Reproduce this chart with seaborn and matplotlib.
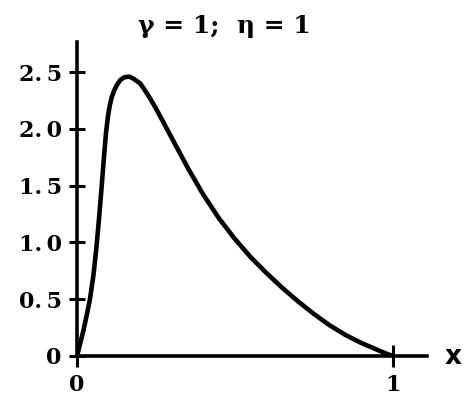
import matplotlib
matplotlib.use("Agg")
import matplotlib.pyplot as plt
import seaborn as sns
import pandas as pd

# Density curve for gamma = 1, eta = 1 on the unit interval
x_vals = [0.0, 0.01, 0.02, 0.03, 0.041, 0.052, 0.062, 0.07, 0.078, 0.085,
          0.092, 0.098, 0.104, 0.11, 0.118, 0.127, 0.137, 0.15, 0.166, 0.18,
          0.2, 0.215, 0.231, 0.25, 0.275, 0.3, 0.325, 0.35, 0.375, 0.4,
          0.45, 0.5, 0.55, 0.6, 0.65, 0.7, 0.75, 0.8, 0.85, 0.9,
          0.95, 0.98, 1.0]
density = [0.0, 0.11, 0.22, 0.35, 0.50, 0.71, 0.97, 1.22, 1.49, 1.74,
           1.97, 2.11, 2.21, 2.28, 2.34, 2.39, 2.43, 2.455, 2.46, 2.44,
           2.40, 2.34, 2.27, 2.18, 2.05, 1.92, 1.79, 1.66, 1.54, 1.42,
           1.21, 1.03, 0.87, 0.73, 0.60, 0.48, 0.37, 0.27, 0.185, 0.115,
           0.055, 0.02, 0.0]

y_ticks = [0.0, 0.5, 1.0, 1.5, 2.0, 2.5]
y_tick_labels = ["0", "0.\u20095", "1.\u20090", "1.\u20095", "2.\u20090", "2.\u20095"]
x_ticks = [0, 1]
x_tick_labels = ["0", "1"]
title_text = "\u03b3 = 1;  \u03b7 = 1"
x_name = "x"

sns.set_theme(style="white")
plt.rcParams["font.family"] = ["DejaVu Serif", "DejaVu Sans"]
plt.rcParams["font.weight"] = "bold"

fig = plt.figure(figsize=(4.65, 4.04), dpi=100)
fig.patch.set_facecolor("white")
ax = fig.add_axes([77 / 465, 48 / 404, 350 / 465, 314 / 404])
ax.set_facecolor("white")

df = pd.DataFrame({"x": x_vals, "f": density})
sns.lineplot(data=df, x="x", y="f", ax=ax, color="black", linewidth=3.3,
             estimator=None, sort=False, solid_joinstyle="round",
             solid_capstyle="round")

ax.set_xlim(0, 1.108)
ax.set_ylim(0, 2.765)

for side in ("top", "right"):
    ax.spines[side].set_visible(False)
for side in ("left", "bottom"):
    ax.spines[side].set_color("black")
    ax.spines[side].set_linewidth(2.6)

ax.set_yticks(y_ticks)
ax.set_yticklabels(y_tick_labels, fontsize=16, fontweight="bold",
                   color="black")
ax.set_xticks(x_ticks)
ax.set_xticklabels(x_tick_labels, fontsize=16, fontweight="bold",
                   color="black")
ax.tick_params(axis="y", direction="inout", length=12, width=2.2,
               color="black", pad=5, left=True)
ax.tick_params(axis="x", direction="inout", length=16, width=2.2,
               color="black", pad=5, bottom=True)
ax.set_xlabel("")
ax.set_ylabel("")

fig.text(453 / 465, 1 - 357 / 404, x_name, fontsize=19, fontweight="bold",
         family="DejaVu Sans", ha="center", va="center", color="black")
fig.text(224 / 465, 1 - 26 / 404, title_text, fontsize=18,
         fontweight="bold", ha="center", va="center", color="black")

fig.savefig("out.png", dpi=100, facecolor="white")
